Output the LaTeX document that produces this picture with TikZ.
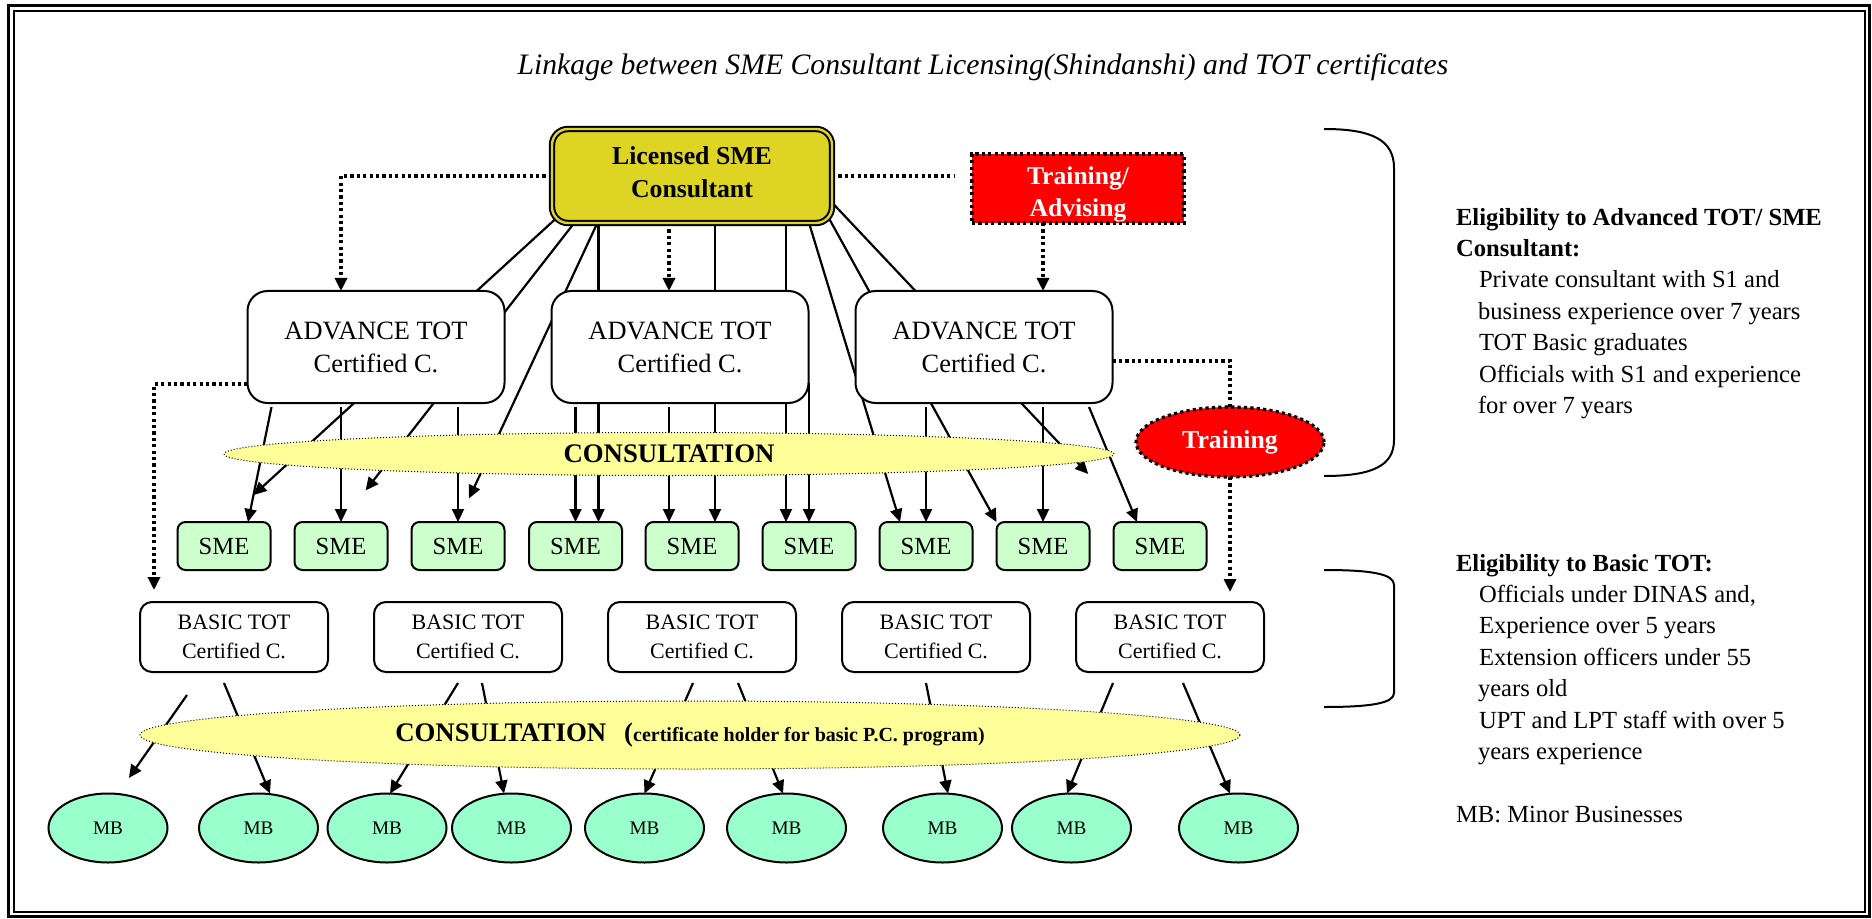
\documentclass[tikz,border=0pt]{standalone}
\usepackage{fontspec}
\setmainfont{Liberation Serif}
\usetikzlibrary{shapes.geometric,arrows.meta,calc,backgrounds}

\definecolor{licyellow}{RGB}{221,212,36}
\definecolor{consyellow}{RGB}{255,255,153}
\definecolor{smegreen}{RGB}{204,255,204}
\definecolor{mbgreen}{RGB}{153,255,204}

\begin{document}
\begin{tikzpicture}[x=0.5pt,y=-0.5pt,
    >={Triangle[length=6.5pt,width=6pt]},
    every node/.style={outer sep=0pt},
    link/.style={line width=1.1pt},
    dotlink/.style={line width=1.6pt,dash pattern=on 1.6pt off 1.6pt},
    licbox/.style={draw,line width=1pt,double=licyellow,double distance=1.2pt,fill=licyellow,rounded corners=8pt,minimum width=140pt,minimum height=47pt,align=center,text depth=4pt,font=\bfseries\fontsize{12.9}{16.5}\selectfont},
    trainbox/.style={draw,dotlink,fill=red,text=white,minimum width=106pt,minimum height=34.5pt,inner ysep=0pt,align=center,text height=31pt,font=\bfseries\fontsize{12.8}{16}\selectfont},
    advbox/.style={draw,line width=1pt,fill=white,rounded corners=10pt,minimum width=128.5pt,minimum height=56pt,align=center,font=\fontsize{13.2}{16.5}\selectfont},
    smebox/.style={draw,line width=1pt,fill=smegreen,rounded corners=4pt,minimum width=46.5pt,minimum height=24pt,inner sep=0pt,font=\fontsize{12.3}{14}\selectfont},
    basicbox/.style={draw,line width=1pt,fill=white,rounded corners=6pt,minimum width=94pt,minimum height=35pt,align=center,font=\fontsize{11}{14.5}\selectfont},
    mbnode/.style={draw,ellipse,line width=1pt,fill=mbgreen,minimum width=59.5pt,minimum height=34.5pt,inner sep=0pt,font=\fontsize{9.6}{11}\selectfont},
    consell/.style={draw,ellipse,line width=0.5pt,densely dotted,fill=consyellow,inner sep=0pt,font=\bfseries\fontsize{13.4}{15}\selectfont},
    trainell/.style={draw,ellipse,dotlink,fill=red,text=white,minimum width=94pt,minimum height=35pt,inner sep=0pt,font=\bfseries\fontsize{12.9}{15}\selectfont},
    rtext/.style={anchor=north west,inner sep=0pt,align=left,font=\fontsize{12.3}{15.7}\selectfont}]
    \useasboundingbox (0,0) rectangle (1872,919);
    % double frame
    \draw[line width=1.5pt] (8.5,6) rectangle (1869,916.5);
    \draw[line width=1pt] (14,11.5) rectangle (1865,912);

    \node[font=\itshape\fontsize{14.85}{17}\selectfont] (title) at (983,67) {Linkage between SME Consultant Licensing(Shindanshi) and TOT certificates};

    % top level
    \node[licbox] (lic) at (692,176) {Licensed SME\\Consultant};
    \node[trainbox] (train) at (1078,188.5) {Training/\\Advising};

    % advance tot
    \node[advbox] (adv1) at (376,347) {ADVANCE TOT\\Certified C.};
    \node[advbox] (adv2) at (680,347) {ADVANCE TOT\\Certified C.};
    \node[advbox] (adv3) at (984,347) {ADVANCE TOT\\Certified C.};
    \node[consell,minimum width=445pt,minimum height=21.5pt] (cons1) at (669,454) {CONSULTATION};
    \node[trainell] (tr2) at (1230,442) {Training};

    % sme row
    \node[smebox] (sme1) at (224,546) {SME};
    \node[smebox] (sme2) at (341,546) {SME};
    \node[smebox] (sme3) at (458,546) {SME};
    \node[smebox] (sme4) at (575.5,546) {SME};
    \node[smebox] (sme5) at (692,546) {SME};
    \node[smebox] (sme6) at (809,546) {SME};
    \node[smebox] (sme7) at (926,546) {SME};
    \node[smebox] (sme8) at (1043,546) {SME};
    \node[smebox] (sme9) at (1160,546) {SME};

    % basic tot
    \node[basicbox] (basic1) at (234,637) {BASIC TOT\\Certified C.};
    \node[basicbox] (basic2) at (468,637) {BASIC TOT\\Certified C.};
    \node[basicbox] (basic3) at (702,637) {BASIC TOT\\Certified C.};
    \node[basicbox] (basic4) at (936,637) {BASIC TOT\\Certified C.};
    \node[basicbox] (basic5) at (1170,637) {BASIC TOT\\Certified C.};
    \node[consell,minimum width=550pt,minimum height=34pt] (cons2) at (690,735) {CONSULTATION\hspace{9pt}(\fontsize{10}{12}\selectfont certificate holder for basic P.C. program)};

    % minor businesses
    \node[mbnode] (mb1) at (108,828) {MB};
    \node[mbnode] (mb2) at (258.5,828) {MB};
    \node[mbnode] (mb3) at (387,828) {MB};
    \node[mbnode] (mb4) at (511.5,828) {MB};
    \node[mbnode] (mb5) at (644.5,828) {MB};
    \node[mbnode] (mb6) at (786.5,828) {MB};
    \node[mbnode] (mb7) at (942.5,828) {MB};
    \node[mbnode] (mb8) at (1071.5,828) {MB};
    \node[mbnode] (mb9) at (1238.5,828) {MB};

    % right hand notes
    \node[rtext] (eligadv) at (1456,208) {\textbf{Eligibility to Advanced TOT/ SME}\\
        \textbf{Consultant:}\\
        \hspace*{11.5pt}Private consultant with S1 and\\
        \hspace*{11pt}business experience over 7 years\\
        \hspace*{11.5pt}TOT Basic graduates\\
        \hspace*{11.5pt}Officials with S1 and experience\\
        \hspace*{11pt}for over 7 years};
    \node[rtext] (eligbasic) at (1456,554) {\textbf{Eligibility to Basic TOT:}\\
        \hspace*{11.5pt}Officials under DINAS and,\\
        \hspace*{11.5pt}Experience over 5 years\\
        \hspace*{11.5pt}Extension officers under 55\\
        \hspace*{11pt}years old\\
        \hspace*{11.5pt}UPT and LPT staff with over 5\\
        \hspace*{11pt}years experience};
    \node[rtext] (mbnote) at (1456,806) {MB: Minor Businesses};

    % brackets
    \draw[line width=1pt] (1324,129) .. controls (1372,129) and (1394,140) .. (1394,168) -- (1394,440) .. controls (1394,466) and (1372,476) .. (1324,476);
    \draw[line width=1pt] (1324,570) .. controls (1372,570) and (1394,574) .. (1394,585) -- (1394,693) .. controls (1394,703) and (1372,707) .. (1324,707);

    \begin{scope}[on background layer]
    % licensed consultant to sme
    \coordinate (l4) at ($(sme4.north)+(23,0)$);
    \coordinate (l5) at ($(sme5.north)+(23,0)$);
    \coordinate (l6) at ($(sme6.north)+(-23,0)$);
    \draw[link,->,shorten >=20pt] ($(lic.south west)+(10,-10)$) -- (sme1.north);
    \draw[link,->,shorten >=20pt] ($(lic.south west)+(30,-10)$) -- (sme2.north);
    \draw[link,->,shorten >=13pt] ($(lic.south west)+(50,-10)$) -- (sme3.north);
    \draw[link,->] (lic.center -| l4) -- (l4);
    \draw[link,->] (lic.center -| l5) -- (l5);
    \draw[link,->] (lic.center -| l6) -- (l6);
    \draw[link,->] ($(lic.south east)+(-26,-10)$) -- ($(sme7.north)+(-26,0)$);
    \draw[link,->] ($(lic.south east)+(-6,-10)$) -- (sme8.north west);
    \draw[link,->,shorten >=33pt] ($(lic.east)+(-9,17)$) -- ($(sme9.north west)+(20,0)$);

    % advance tot to sme
    \coordinate (a5) at ($(sme5.north)+(-23,0)$);
    \draw[link,->] ($(adv1.south west)+(24,4)$) -- ($(sme1.north)+(24,0)$);
    \draw[link,->] ($(adv1.south -| sme2.north)+(0,4)$) -- (sme2.north);
    \draw[link,->] ($(adv1.south -| sme3.north)+(0,4)$) -- (sme3.north);
    \draw[link,->] ($(adv2.south -| sme4.north)+(0,4)$) -- (sme4.north);
    \draw[link,->] ($(adv2.south -| a5)+(0,4)$) -- (a5);
    \draw[link,->] ($(adv2.south east -| sme6.north)+(0,-20)$) -- (sme6.north);
    \draw[link,->] ($(adv3.south -| sme7.north)+(0,4)$) -- (sme7.north);
    \draw[link,->] ($(adv3.south -| sme8.north)+(0,4)$) -- (sme8.north);
    \draw[link,->] ($(adv3.south)+(105,4)$) -- ($(sme9.north)+(-23,0)$);

    % basic tot to mb
    \draw[link,->,shorten >=9.5pt] ($(basic1.south)+(-47,23)$) -- ($(mb1.north)+(10,0)$);
    \draw[link,->] ($(basic1.south)+(-10,11)$) -- ($(mb2.north)+(11.5,0)$);
    \draw[link,->] ($(basic2.south)+(-10,11)$) -- ($(mb3.north)+(3,0)$);
    \draw[link,->] ($(basic2.south)+(14,11)$) -- ($(mb4.north)+(-7.5,0)$);
    \draw[link,->] ($(basic3.south)+(-9,11)$) -- (mb5.north);
    \draw[link,->] ($(basic3.south)+(36,11)$) -- ($(mb6.north)+(-3.5,0)$);
    \draw[link,->] ($(basic4.south)+(-10,11)$) -- ($(mb7.north)+(5.5,0)$);
    \draw[link,->] ($(basic5.south)+(-57,11)$) -- ($(mb8.north)+(-4.5,0)$);
    \draw[link,->] ($(basic5.south)+(13,11)$) -- ($(mb9.north)+(-8.5,0)$);

    % dotted training links
    \coordinate (d1) at ($(adv1.north)+(-35,0)$);
    \coordinate (d2) at ($(lic.south)+(-23,0)$);
    \coordinate (d4) at ($(train.south)+(-35,0)$);
    \coordinate (d5) at ($(basic1.north)+(-80,0)$);
    \draw[dotlink,->] (lic.west) -| (d1);
    \draw[dotlink,->] (d2) -- (d2 |- adv2.north);
    \draw[dotlink,shorten >=8.5pt] (lic.east) -- (lic.east -| train.west);
    \draw[dotlink,->] (d4) -- (d4 |- adv3.north);
    \draw[dotlink,->,shorten >=6pt] ($(adv1.west)+(0,37)$) -| (d5);
    \draw[dotlink] ($(adv3.east)+(0,14)$) -| (tr2.north);
    \draw[dotlink,->,shorten >=5pt] (tr2.south) -- (tr2.south |- basic5.north);
    \end{scope}
\end{tikzpicture}
\end{document}
